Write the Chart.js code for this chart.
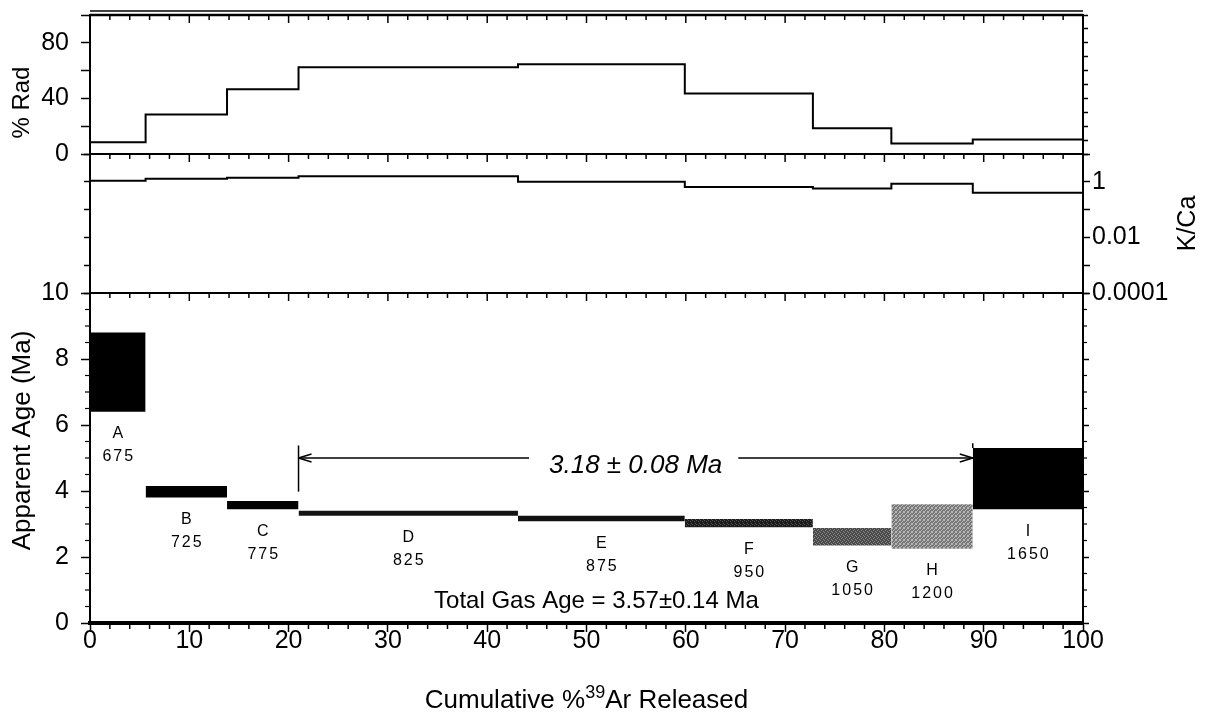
<!DOCTYPE html>
<html>
<head>
<meta charset="utf-8">
<script src="https://cdn.jsdelivr.net/npm/chart.js@4/dist/chart.umd.min.js"></script>
<style>
html,body{margin:0;padding:0;background:#fff;}
#wrap{position:relative;width:1220px;height:719px;}
</style>
</head>
<body>
<div id="wrap"><canvas id="c" width="1220" height="719"></canvas></div>
<script>
// ---------- data ----------
const stepEdges   = [0, 5.6, 13.8, 21.0, 43.1, 59.9, 72.8, 80.7, 88.9, 100];
const stepLetters = ['A', 'B', 'C', 'D', 'E', 'F', 'G', 'H', 'I'];
const stepTemps   = ['675', '725', '775', '825', '875', '950', '1050', '1200', '1650'];
const radPercent  = [8.5, 28.5, 46.5, 62.5, 64.5, 43.5, 18.5, 7.5, 10.5];
const kcaRatio    = [1.1, 1.3, 1.4, 1.6, 1.0, 0.65, 0.58, 0.85, 0.4];
const ageLow      = [6.4, 3.8, 3.45, 3.25, 3.08, 2.9, 2.35, 2.25, 3.45];
const ageHigh     = [8.8, 4.15, 3.7, 3.4, 3.25, 3.15, 2.88, 3.6, 5.3];
const radTickLabels = [0, 40, 80];
const kcaDecades    = [0.0001, 0.001, 0.01, 0.1, 1, 10];
const kcaTickLabels = [0.0001, 0.01, 1];
const plateauStart = 21.0;
const plateauEnd   = 88.9;
const plateauAge   = 5.0;
const plateauText  = '3.18 ± 0.08 Ma';
const totalGasText = 'Total Gas Age = 3.57±0.14 Ma';
const totalGasX = 51, totalGasY = 0.45;

// ---------- styling ----------
const FONT = "'Liberation Sans', Arial, Helvetica, sans-serif";
Chart.defaults.font.family = FONT;
Chart.defaults.color = '#000';

const canvas = document.getElementById('c');
const ctx0 = canvas.getContext('2d');
function makePattern(base, dot, pts) {
  const p = document.createElement('canvas'); p.width = 4; p.height = 4;
  const g = p.getContext('2d');
  g.fillStyle = base; g.fillRect(0, 0, 4, 4);
  g.fillStyle = dot;
  pts.forEach(([a, b]) => g.fillRect(a, b, 1, 1));
  return ctx0.createPattern(p, 'repeat');
}
const patF = makePattern('#1c1c1c', '#555', [[0,0],[2,1],[3,3]]);
const patG = makePattern('#4a4a4a', '#8a8a8a', [[0,0],[2,1],[1,2],[3,3]]);
const patH = makePattern('#7a7a7a', '#b5b5b5', [[0,0],[2,1],[1,2],[3,3],[3,0],[0,3]]);
const boxFill = ['#000', '#000', '#000', '#141414', '#111', patF, patG, patH, '#000'];

function stepPoints(vals) {
  const pts = vals.map((v, i) => ({x: stepEdges[i], y: v}));
  pts.push({x: stepEdges[stepEdges.length - 1], y: vals[vals.length - 1]});
  return pts;
}

const datasets = [
  {data: stepPoints(radPercent), yAxisID: 'yRad', xAxisID: 'x', stepped: true,
   borderColor: '#000', borderWidth: 2, pointRadius: 0, fill: false},
  {data: stepPoints(kcaRatio), yAxisID: 'yK', xAxisID: 'x', stepped: true,
   borderColor: '#000', borderWidth: 2, pointRadius: 0, fill: false}
];
stepLetters.forEach((l, i) => {
  datasets.push({
    data: [{x: stepEdges[i], y: ageHigh[i]}, {x: stepEdges[i + 1], y: ageHigh[i]}],
    yAxisID: 'yAge', xAxisID: 'x',
    fill: {value: ageLow[i]},
    backgroundColor: boxFill[i],
    borderColor: 'rgba(0,0,0,0)', borderWidth: 0, pointRadius: 0
  });
});

const gridOpts = (len) => ({drawOnChartArea: false, drawTicks: true, tickLength: len, tickColor: '#000', tickWidth: 1.5, color: '#000'});
const borderOpts = {display: true, color: '#000', width: 2};
const leftW = s => { s.width = 90; s.paddingTop = 0; s.paddingBottom = 0; };
const rightW = s => { s.width = 137; s.paddingTop = 0; s.paddingBottom = 0; };
const setDecades = s => { s.ticks = kcaDecades.map(v => ({value: v})); };

// ---------- decorations plugin ----------
const decor = {
  id: 'decor',
  afterDraw(chart) {
    const {ctx, chartArea: ca, scales} = chart;
    const x = scales.x, yR = scales.yRad, yK = scales.yK, yA = scales.yAge;
    ctx.save();
    ctx.strokeStyle = '#000'; ctx.fillStyle = '#000';
    const line = (x1, y1, x2, y2, w) => { ctx.lineWidth = w || 1.5; ctx.beginPath(); ctx.moveTo(x1, y1); ctx.lineTo(x2, y2); ctx.stroke(); };
    const topY = yR.getPixelForValue(100);
    const midY = yR.getPixelForValue(0);
    const botTopY = yA.getPixelForValue(10);
    line(ca.left, topY, ca.right, topY, 2.5);
    line(ca.left, topY - 4, ca.right, topY - 4, 1.5);
    line(ca.left, midY, ca.right, midY, 2);
    line(ca.left, botTopY, ca.right, botTopY, 2);
    // x ticks on panel tops and minor ticks at bottom
    for (let v = 0; v <= 100; v += 2) {
      const px = x.getPixelForValue(v);
      const major = v % 10 === 0;
      [topY, midY, botTopY].forEach(py => line(px, py, px, py + (major ? 8 : 5), 1.5));
      if (!major) line(px, ca.bottom, px, ca.bottom + 6, 1.5);
    }
    // age minor ticks
    for (let k = 1; k < 20; k++) {
      const v = k * 0.5;
      if (k % 4 === 0) continue;
      const py = yA.getPixelForValue(v);
      line(ca.left - 5, py, ca.left, py, 1.2);
      line(ca.right, py, ca.right + 4, py, 1.2);
    }
    // step labels
    ctx.textAlign = 'center'; ctx.textBaseline = 'middle';
    ctx.font = `16px ${FONT}`;
    if ('letterSpacing' in ctx) ctx.letterSpacing = '2px';
    stepLetters.forEach((l, i) => {
      const cx = x.getPixelForValue((stepEdges[i] + stepEdges[i + 1]) / 2);
      const by = yA.getPixelForValue(ageLow[i]);
      ctx.fillText(l, cx + 1, by + 22);
      ctx.fillText(stepTemps[i], cx + 1, by + 45);
    });
    if ('letterSpacing' in ctx) ctx.letterSpacing = '0px';
    // plateau arrow
    const ay = yA.getPixelForValue(plateauAge);
    const ax1 = x.getPixelForValue(plateauStart), ax2 = x.getPixelForValue(plateauEnd);
    ctx.font = `italic 26px ${FONT}`;
    const tw = ctx.measureText(plateauText).width;
    const tc = (ax1 + ax2) / 2;
    line(ax1, ay, tc - tw / 2 - 20, ay, 1.5);
    line(tc + tw / 2 + 16, ay, ax2, ay, 1.5);
    line(ax1, ay, ax1 + 13, ay - 4, 1.5); line(ax1, ay, ax1 + 13, ay + 4, 1.5);
    line(ax2, ay, ax2 - 13, ay - 4, 1.5); line(ax2, ay, ax2 - 13, ay + 4, 1.5);
    line(ax1, yA.getPixelForValue(plateauAge + 0.38), ax1, yA.getPixelForValue(plateauAge - 1.02), 1.5);
    line(ax2, yA.getPixelForValue(plateauAge + 0.45), ax2, yA.getPixelForValue(ageHigh[8]), 1.5);
    ctx.textBaseline = 'alphabetic';
    ctx.fillText(plateauText, tc, ay + 15);
    // total gas age
    ctx.font = `24px ${FONT}`;
    ctx.fillText(totalGasText, x.getPixelForValue(totalGasX), yA.getPixelForValue(totalGasY));
    // axis titles
    const vText = (t, cx, cy, size) => {
      ctx.save(); ctx.translate(cx, cy); ctx.rotate(-Math.PI / 2);
      ctx.font = `${size}px ${FONT}`; ctx.textAlign = 'center'; ctx.textBaseline = 'middle';
      ctx.fillText(t, 0, 0); ctx.restore();
    };
    vText('% Rad', yR.left + 22, yR.top + (yR.bottom - yR.top) * 0.63, 24);
    vText('Apparent Age (Ma)', yA.left + 23, yA.top + (yA.bottom - yA.top) * 0.447, 26);
    vText('K/Ca', yK.left + 105, (yK.top + yK.bottom) / 2, 25);
    // x title with superscript
    const p1 = 'Cumulative %', sup = '39', p2 = 'Ar Released';
    ctx.font = `26px ${FONT}`;
    const w1 = ctx.measureText(p1).width, w3 = ctx.measureText(p2).width;
    ctx.font = `18px ${FONT}`;
    const w2 = ctx.measureText(sup).width;
    let sx = (ca.left + ca.right) / 2 - (w1 + w2 + w3) / 2;
    const by = ca.bottom + 85;
    ctx.textAlign = 'left';
    ctx.font = `26px ${FONT}`; ctx.fillText(p1, sx, by); sx += w1;
    ctx.font = `18px ${FONT}`; ctx.fillText(sup, sx, by - 10); sx += w2;
    ctx.font = `26px ${FONT}`; ctx.fillText(p2, sx, by);
    ctx.restore();
  }
};

new Chart(canvas, {
  type: 'line',
  data: {datasets},
  options: {
    responsive: false,
    maintainAspectRatio: false,
    animation: false,
    devicePixelRatio: 1,
    events: [],
    layout: {padding: {left: 0, right: 0, top: 15, bottom: 0}},
    plugins: {legend: {display: false}, tooltip: {enabled: false}},
    scales: {
      x: {type: 'linear', position: 'bottom', min: 0, max: 100,
          ticks: {stepSize: 10, font: {size: 25}, color: '#000', padding: -6, maxRotation: 0, autoSkip: false},
          grid: gridOpts(9), border: {display: true, color: '#000', width: 4},
          afterFit(s) { s.height = 96; s.paddingLeft = 0; s.paddingRight = 0; }},
      yAge: {type: 'linear', position: 'left', stack: 'L', stackWeight: 330, min: 0, max: 10,
          ticks: {stepSize: 2, font: {size: 25}, color: '#000', padding: 12, autoSkip: false},
          grid: gridOpts(9), border: borderOpts, afterFit: leftW},
      yKL: {type: 'logarithmic', position: 'left', stack: 'L', stackWeight: 139, min: 0.0001, max: 10,
          afterBuildTicks: setDecades,
          ticks: {callback: () => '', autoSkip: false, font: {size: 25}},
          grid: gridOpts(6), border: borderOpts, afterFit: leftW},
      yRad: {type: 'linear', position: 'left', stack: 'L', stackWeight: 139, min: 0, max: 100,
          ticks: {stepSize: 20, font: {size: 25}, color: '#000', padding: 12, autoSkip: false,
                  callback: v => radTickLabels.includes(v) ? String(v) : ''},
          grid: gridOpts(9), border: borderOpts, afterFit: leftW},
      yRadR: {type: 'linear', position: 'right', stack: 'R', stackWeight: 139, min: 0, max: 100,
          ticks: {stepSize: 10, autoSkip: false, callback: () => ''},
          grid: gridOpts(5), border: borderOpts, afterFit: rightW},
      yK: {type: 'logarithmic', position: 'right', stack: 'R', stackWeight: 139, min: 0.0001, max: 10,
          afterBuildTicks: setDecades,
          ticks: {font: {size: 25}, color: '#000', padding: 2, autoSkip: false,
                  callback: v => kcaTickLabels.includes(v) ? String(v) : ''},
          grid: gridOpts(7), border: borderOpts, afterFit: rightW},
      yAgeR: {type: 'linear', position: 'right', stack: 'R', stackWeight: 330, min: 0, max: 10,
          ticks: {stepSize: 2, autoSkip: false, callback: () => ''},
          grid: gridOpts(6), border: borderOpts, afterFit: rightW}
    }
  },
  plugins: [decor]
});
</script>
</body>
</html>
